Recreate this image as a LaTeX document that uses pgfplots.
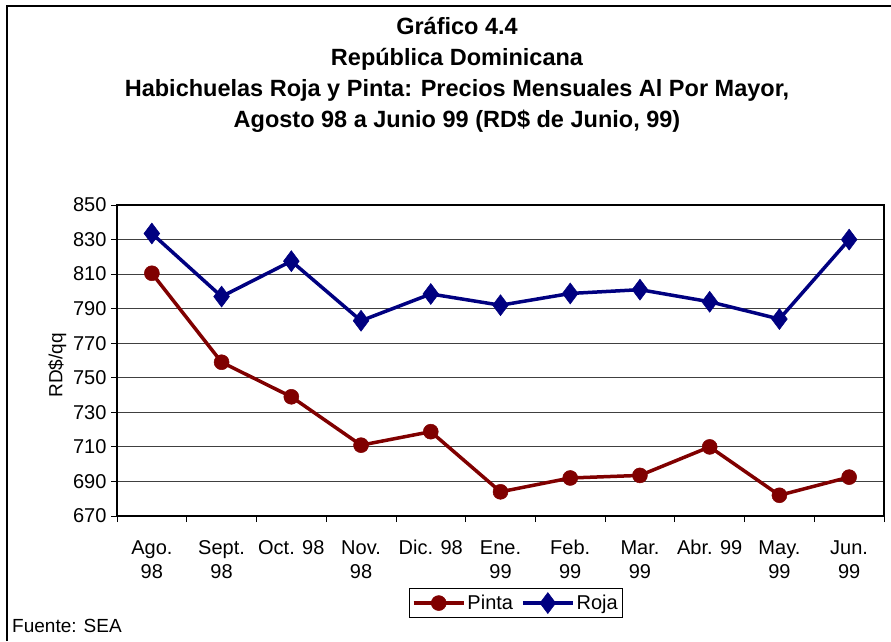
\documentclass[border=0pt]{standalone}
\usepackage{pgfplots}
\pgfplotsset{compat=1.18}
\usepackage{fontspec}
\setmainfont{Liberation Sans}
\definecolor{pinta}{RGB}{128,0,0}
\definecolor{roja}{RGB}{0,0,128}
\newcommand{\tl}[2]{\strut #1\\\strut #2}
\begin{document}
\begin{tikzpicture}
\useasboundingbox (0pt,0pt) rectangle (891pt,641pt);
% outer frame (only left and top edges visible in the crop)
\draw[line width=1.2pt] (7pt,0pt) -- (7pt,635pt) -- (891pt,635pt);
% title
\begin{scope}[every node/.style={anchor=base,inner sep=0pt,font=\fontsize{23.5}{28}\selectfont\bfseries}]
\node at (457pt,641pt-35pt) {Gráfico 4.4};
\node at (457pt,641pt-66pt) {República Dominicana};
\node at (457pt,641pt-97pt) {Habichuelas Roja y Pinta: Precios Mensuales Al Por Mayor,};
\node at (457pt,641pt-128pt) {Agosto 98 a Junio 99 (RD\$ de Junio, 99)};
\end{scope}
\node[anchor=west,inner sep=0pt,font=\fontsize{19}{22}\selectfont] at (12pt,15pt) {Fuente: SEA};
\begin{axis}[
    at={(117pt,125pt)}, anchor=south west,
    scale only axis, width=767pt, height=311pt,
    xmin=-0.5, xmax=10.5, ymin=670, ymax=850,
    ytick={670,690,...,850},
    xtick={0,...,10},
    xticklabels={\tl{Ago.}{98}, \tl{Sept.}{98}, \tl{Oct. 98}{}, \tl{Nov.}{98}, \tl{Dic. 98}{}, \tl{Ene.}{99}, \tl{Feb.}{99}, \tl{Mar.}{99}, \tl{Abr. 99}{}, \tl{May.}{99}, \tl{Jun.}{99}},
    minor xtick={-0.5,0.5,...,10.5},
    major x tick style={draw=none},
    tick align=outside,
    major tick length=6pt, minor tick length=6pt,
    tick style={black, line width=0.8pt},
    ymajorgrids, grid style={black!75, line width=0.9pt},
    axis line style={line width=1.8pt},
    xtick pos=bottom, ytick pos=left,
    /pgf/number format/assume math mode=true,
    ticklabel style={font=\fontsize{20}{24}\selectfont},
    xticklabel style={align=center, anchor=north, inner sep=0pt, yshift=-15pt},
    yticklabel style={xshift=-1pt},
    ylabel={RD\$/qq},
    ylabel style={font=\fontsize{19}{22}\selectfont, xshift=-5pt},
    legend columns=2,
    legend style={at={(0.52,-0.28)}, anchor=center, draw=black, line width=0.6pt,
        font=\fontsize{20}{23}\selectfont, inner xsep=3pt, inner ysep=4pt,
        /tikz/every even column/.append style={column sep=6pt}},
    legend image code/.code={\draw[#1] (0pt,0pt) -- (50pt,0pt); \draw[#1,mark repeat=1] plot coordinates {(25pt,0pt)};},
]
\addplot[pinta, line width=3.5pt, mark=*, mark size=7.5pt, mark options={solid, line width=0.5pt}]
coordinates {(0,810.5) (1,759) (2,739) (3,711) (4,718.8) (5,684) (6,692) (7,693.5) (8,710) (9,682) (10,692.5)};
\addlegendentry{Pinta}
\addplot[roja, line width=3.5pt, mark=diamond*, mark size=10.5pt, mark options={solid, line width=0.5pt}]
coordinates {(0,833.5) (1,797) (2,817.5) (3,783) (4,798.5) (5,792) (6,798.8) (7,801) (8,794) (9,784) (10,830)};
\addlegendentry{Roja}
\end{axis}
\end{tikzpicture}
\end{document}
